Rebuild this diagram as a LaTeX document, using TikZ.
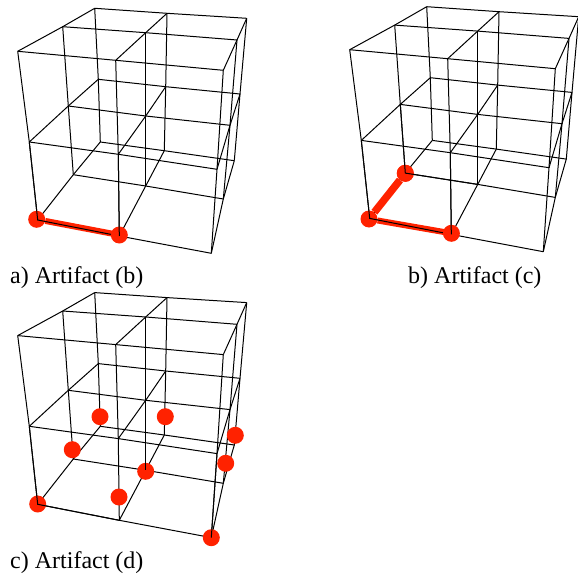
\documentclass[tikz,border=0pt]{standalone}
\usepackage{xcolor}
\usepackage{fontspec}
\setmainfont{Liberation Serif}
\usepackage{tikz}
\definecolor{artred}{HTML}{FF2200}

% 3x3x3 lattice: #1 name prefix, #2 and #3 shift
\newcommand{\cubegrid}[3]{
  \foreach \vname/\px/\py in {
    000/37.7/220, 100/119.3/236, 200/211.3/253.3,
    010/73.3/174.7, 110/145.7/186, 210/223.3/199,
    020/100.3/142, 120/164.3/150.7, 220/234.3/160.7,
    001/29.3/142, 101/118.3/154.3, 201/217/169.3,
    011/68.3/106, 111/145.7/116, 211/230/125.3,
    021/98.3/79.3, 121/165.7/86.7, 221/240/94,
    002/17.7/51.3, 102/115.7/60.3, 202/223.3/70.3,
    012/62.7/26.7, 112/145.7/32.7, 212/237/40,
    022/94.7/8.3, 122/167/13.3, 222/246.7/18.3}
    {\coordinate (#1\vname) at (\px+#2,\py+#3);}
  \foreach \a in {0,1,2}
    \foreach \b in {0,1,2} {
      \draw[wire] (#1\a\b0) -- (#1\a\b1) -- (#1\a\b2);
      \draw[wire] (#1\a0\b) -- (#1\a1\b) -- (#1\a2\b);
      \draw[wire] (#10\a\b) -- (#11\a\b) -- (#12\a\b);
    }
}

\begin{document}
\begin{tikzpicture}[x=1pt,y=-1pt]
  \tikzstyle{wire} = [draw=black, line width=1pt]
  \tikzstyle{reddot} = [circle, fill=artred, inner sep=0pt, minimum size=17pt]
  \tikzstyle{thinbar} = [draw=artred, line width=6pt]
  \tikzstyle{thickbar} = [draw=artred, line width=7.5pt]
  \tikzstyle{caption} = [anchor=base west, inner sep=0pt, font=\fontsize{24}{24}\selectfont]
  \useasboundingbox (0,0) rectangle (578,575);

  % panel a
  \cubegrid{a}{0}{0}
  \node[reddot] (a1) at (36.7,219.3) {};
  \coordinate (a2) at (119.3,235);
  \draw[thinbar] (a1) -- (a2);
  \draw[wire] (a001) -- (a000) -- (a100);
  \node[reddot] (a3) at (a2) {};
  \draw[wire] (a101) -- (a100);
  \node[caption] (acap) at (10,283) {a) Artifact (b)};

  % panel b
  \cubegrid{b}{332}{-1.6}
  \node[reddot] (b1) at (369,219) {};
  \node[reddot] (b2) at (405.3,173.3) {};
  \coordinate (b3) at (451.4,233.3);
  \draw[thickbar] (b1) -- (b2);
  \node[reddot] at (b2) {};
  \draw[thinbar] (b1) -- (b3);
  \draw[wire] (b001) -- (b000) -- (b100);
  \draw[wire] (b011) -- (b010) -- (b110);
  \node[reddot] (b4) at (b3) {};
  \draw[wire] (b101) -- (b100);
  \node[caption] (bcap) at (408,283) {b) Artifact (c)};

  % panel c
  \cubegrid{c}{0}{284.3}
  \node[reddot] (c1) at (37.7,504) {};
  \node[reddot] (c2) at (119,497) {};
  \node[reddot] (c3) at (145.7,471.3) {};
  \node[reddot] (c4) at (72.3,449.7) {};
  \node[reddot] (c5) at (100,416.7) {};
  \node[reddot] (c6) at (165.3,416.7) {};
  \node[reddot] (c7) at (225.7,463.3) {};
  \node[reddot] (c8) at (235.3,435.3) {};
  \node[reddot] (c9) at (211.3,537.7) {};
  \draw[wire] (c001) -- (c000) -- (c100);
  \draw[wire] (c111) -- (c110);
  \draw[wire] (c201) -- (c200);
  \node[caption] (ccap) at (10,568) {c) Artifact (d)};
\end{tikzpicture}
\end{document}
